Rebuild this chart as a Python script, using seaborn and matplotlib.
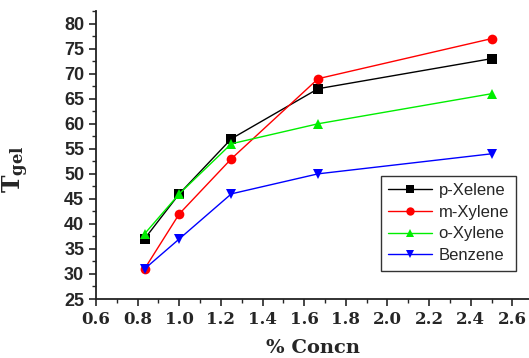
import pandas as pd
import matplotlib.pyplot as plt
import seaborn as sns
from matplotlib.ticker import MultipleLocator

# gel temperature vs concentration for each solvent
concn = [0.833, 1.0, 1.25, 1.667, 2.5]
p_xylene = [37, 46, 57, 67, 73]
m_xylene = [31, 42, 53, 69, 77]
o_xylene = [38, 46, 56, 60, 66]
benzene = [31, 37, 46, 50, 54]
solvents = ['p-Xelene', 'm-Xylene', 'o-Xylene', 'Benzene']

df = pd.concat([
    pd.DataFrame({'concn': concn, 'tgel': vals, 'solvent': name})
    for name, vals in zip(solvents, [p_xylene, m_xylene, o_xylene, benzene])
])

sns.set_style('ticks')
plt.rcParams['mathtext.fontset'] = 'dejavuserif'
fig = plt.figure(figsize=(5.29, 3.58), dpi=100)
ax = fig.add_axes([0.1815, 0.1648, 0.8185, 0.8042])

palette = {'p-Xelene': 'black', 'm-Xylene': 'red', 'o-Xylene': '#00ee00', 'Benzene': 'blue'}
markers = {'p-Xelene': 's', 'm-Xylene': 'o', 'o-Xylene': '^', 'Benzene': 'v'}
sns.lineplot(data=df, x='concn', y='tgel', hue='solvent', style='solvent',
             palette=palette, markers=markers, dashes=False, markersize=7,
             markeredgewidth=0, linewidth=1, ax=ax, legend=True)

ax.set_xlim(0.6, 2.68)
ax.set_ylim(25, 82.5)
ax.xaxis.set_major_locator(MultipleLocator(0.2))
ax.xaxis.set_minor_locator(MultipleLocator(0.1))
ax.yaxis.set_major_locator(MultipleLocator(5))
ax.yaxis.set_minor_locator(MultipleLocator(2.5))
ax.tick_params(which='major', length=5, width=1.2, direction='out')
ax.tick_params(which='minor', length=3, width=1, direction='out')
for lab in ax.get_yticklabels():
    lab.set_fontfamily('Liberation Sans')
    lab.set_fontweight('bold')
    lab.set_fontsize(13)
for lab in ax.get_xticklabels():
    lab.set_fontfamily('DejaVu Serif')
    lab.set_fontweight('bold')
    lab.set_fontsize(12)

sns.despine(ax=ax)
for sp in ['left', 'bottom']:
    ax.spines[sp].set_linewidth(1.3)
    ax.spines[sp].set_color('#222222')

ax.set_xlabel('% Concn', fontfamily='DejaVu Serif', fontweight='bold', fontsize=14)
ax.set_ylabel(r'$\mathbf{T_{gel}}$', fontsize=17, rotation=90)
ax.xaxis.set_label_coords(0.5, -0.14)
ax.yaxis.set_label_coords(-0.15, 0.45)

leg = ax.legend(loc='lower right', bbox_to_anchor=(0.99, 0.07), frameon=True,
                fancybox=False, edgecolor='black', handlelength=2.6,
                borderpad=0.45, labelspacing=0.4, handletextpad=0.4,
                prop={'family': 'Liberation Sans', 'size': 12})
leg.get_frame().set_linewidth(1)
for line in leg.get_lines():
    line.set_linewidth(1)
    line.set_markersize(6)

fig.savefig('out.png', dpi=100)
